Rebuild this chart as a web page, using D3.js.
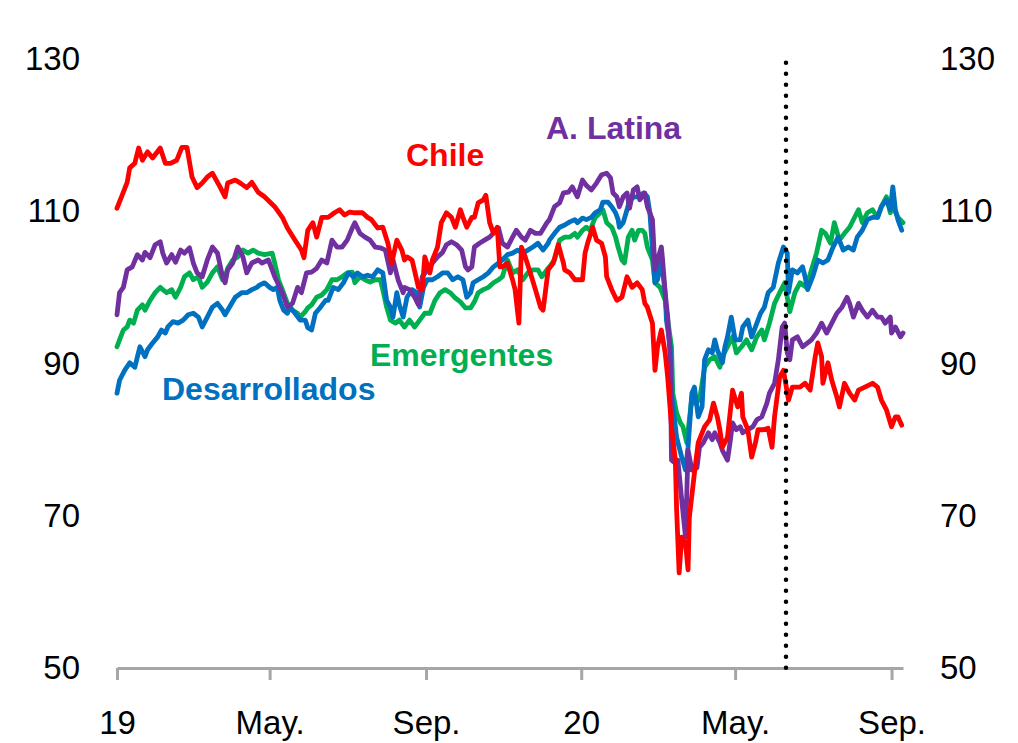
<!DOCTYPE html>
<html>
<head>
<meta charset="utf-8">
<script src="https://cdn.jsdelivr.net/npm/d3@7"></script>
<style>
  html, body { margin: 0; padding: 0; background: #ffffff; }
  svg { display: block; }
</style>
</head>
<body>
<svg id="chart" width="1018" height="743"></svg>
<script>
// ---- DATA (day offset from 1 Jan 2019, index value) ----
const startDate = "2019-01-01";
const endDate = "2020-09-10";
const markerDate = "2020-06-10";

const xTickDates = ["2019-01-01", "2019-05-01", "2019-09-01", "2020-01-01", "2020-05-01", "2020-09-01"];
const xTickLabels = ["19", "May.", "Sep.", "20", "May.", "Sep."];
const yTicks = [50, 70, 90, 110, 130];

const seriesNames = ["Emergentes", "Desarrollados", "A. Latina", "Chile"];

const chile = [[0,110.4],[4,112.1],[8,113.8],[10,115.7],[14,116.3],[17,118.3],[20,116.7],[24,117.8],[28,117.0],[34,118.3],[38,116.3],[42,116.3],[47,116.7],[51,118.4],[55,118.4],[59,114.5],[63,113.1],[67,113.7],[71,114.5],[75,115.0],[79,113.8],[81,113.2],[85,111.9],[87,113.7],[93,114.1],[97,113.7],[102,113.1],[106,113.8],[111,112.5],[116,111.9],[124,110.6],[130,109.2],[134,107.8],[140,106.2],[145,104.9],[147,103.9],[150,107.5],[154,108.5],[157,106.6],[161,109.2],[166,109.2],[171,109.8],[175,110.2],[179,109.5],[183,109.9],[187,109.8],[193,109.8],[197,109.2],[200,108.9],[205,107.8],[209,107.9],[213,105.8],[216,103.2],[220,106.2],[224,104.9],[226,103.6],[228,104.0],[232,103.6],[237,100.0],[240,99.7],[242,104.0],[246,101.9],[248,103.6],[252,105.3],[255,108.5],[259,109.8],[263,109.2],[266,107.9],[270,110.2],[272,109.2],[275,107.9],[279,109.2],[281,109.2],[284,111.1],[288,111.5],[290,112.1],[293,108.5],[296,107.1],[299,107.9],[301,102.7],[303,102.7],[307,103.2],[311,101.0],[313,99.7],[316,95.3],[318,105.3],[321,104.0],[325,101.9],[329,99.7],[333,97.4],[335,97.0],[339,102.3],[343,103.2],[347,105.6],[351,103.2],[352,102.3],[356,101.9],[360,101.0],[366,101.0],[368,104.5],[370,105.8],[374,107.9],[377,106.2],[381,105.8],[384,104.0],[385,101.4],[389,99.7],[393,98.3],[397,98.7],[401,101.4],[405,100.0],[409,100.6],[413,99.7],[415,97.9],[417,97.4],[421,95.3],[423,89.1],[425,92.2],[428,94.4],[431,91.4],[433,88.2],[436,81.7],[439,77.3],[440,70.8],[442,62.5],[444,67.2],[447,66.4],[449,62.9],[450,69.8],[454,75.6],[457,79.6],[462,81.7],[466,82.6],[469,84.8],[472,83.0],[474,81.3],[476,79.0],[480,80.3],[484,86.5],[488,84.3],[491,86.1],[492,83.0],[496,81.3],[499,77.7],[502,79.6],[504,81.3],[508,81.3],[512,81.5],[515,79.0],[517,83.0],[521,88.2],[524,89.1],[528,85.2],[531,86.9],[537,86.9],[541,87.4],[545,86.5],[549,90.9],[551,92.7],[554,90.9],[555,87.4],[559,90.1],[562,87.8],[566,85.6],[568,84.3],[572,87.4],[576,86.1],[580,85.2],[583,86.5],[588,86.9],[594,87.4],[598,86.9],[601,85.2],[605,83.9],[609,81.7],[612,83.0],[614,83.0],[617,81.9]];

const latina = [[0,96.4],[2,99.3],[5,100.0],[8,102.3],[12,102.7],[16,104.3],[20,103.6],[22,104.6],[26,103.9],[30,105.6],[34,106.0],[36,104.5],[39,103.2],[43,104.3],[46,103.3],[50,104.9],[53,104.5],[57,105.2],[60,103.2],[63,101.9],[67,101.4],[71,103.6],[75,105.3],[79,104.5],[83,101.4],[85,100.6],[87,102.3],[91,103.2],[95,105.3],[99,104.0],[102,101.9],[106,103.2],[111,103.6],[114,103.2],[119,103.6],[124,101.4],[130,99.3],[134,97.4],[138,97.9],[142,100.0],[145,99.3],[149,101.9],[153,102.0],[157,102.5],[161,103.6],[165,103.2],[169,106.2],[173,105.3],[177,105.3],[181,106.2],[185,107.8],[187,108.5],[191,107.1],[195,106.6],[199,106.2],[203,105.3],[207,105.2],[211,104.9],[215,101.9],[217,103.6],[221,101.0],[225,99.3],[226,100.0],[230,99.7],[234,98.7],[237,97.7],[240,101.4],[244,102.3],[248,103.2],[252,104.0],[256,104.6],[259,105.6],[263,106.0],[267,105.6],[271,104.9],[274,102.7],[276,102.3],[279,102.7],[281,105.3],[285,105.8],[289,106.2],[293,106.6],[297,107.3],[300,107.8],[303,105.8],[307,105.3],[311,106.6],[314,107.5],[318,106.6],[321,106.2],[325,107.5],[329,107.1],[333,107.1],[338,108.5],[340,108.9],[344,110.6],[348,111.1],[351,112.4],[355,112.5],[358,113.2],[362,111.9],[366,114.1],[369,113.4],[373,112.8],[377,113.7],[381,114.8],[385,115.0],[388,114.4],[390,112.4],[393,111.9],[395,110.6],[398,111.9],[401,112.4],[403,110.4],[406,112.8],[409,113.2],[411,111.5],[415,112.4],[417,110.6],[421,108.9],[423,102.3],[425,103.6],[428,105.3],[429,103.6],[431,99.3],[433,96.1],[435,90.5],[436,77.3],[439,76.9],[441,77.3],[444,72.1],[447,67.2],[449,78.6],[452,76.0],[456,76.3],[458,79.0],[461,79.6],[465,80.9],[468,80.0],[470,80.9],[474,79.6],[476,78.6],[480,77.3],[482,79.6],[484,82.2],[487,81.3],[490,81.7],[492,80.9],[496,81.3],[500,81.7],[503,82.6],[507,83.0],[511,84.8],[513,86.1],[517,87.4],[520,90.5],[523,94.8],[525,95.3],[527,91.4],[529,90.5],[531,93.1],[535,93.5],[539,92.2],[543,92.7],[546,93.1],[550,94.0],[554,95.3],[558,94.0],[562,95.3],[566,96.6],[570,97.4],[574,98.7],[576,97.9],[579,96.1],[583,97.9],[586,97.0],[590,96.1],[594,97.0],[598,96.1],[601,96.1],[604,95.3],[608,96.1],[609,94.0],[612,94.8],[616,93.5],[618,94.0]];

const emergentes = [[0,92.2],[2,93.1],[5,94.4],[8,94.8],[10,95.7],[13,95.3],[16,97.0],[20,97.7],[22,97.0],[26,98.3],[30,99.3],[34,100.0],[36,99.7],[39,99.3],[43,99.7],[46,98.7],[50,100.0],[53,101.4],[57,101.9],[60,101.0],[64,101.4],[67,100.0],[71,100.7],[75,101.9],[79,102.7],[83,101.0],[85,101.4],[87,102.5],[91,103.6],[95,104.0],[99,104.9],[103,104.5],[107,104.9],[111,104.5],[116,104.3],[122,104.5],[124,103.2],[127,101.0],[130,99.7],[134,97.9],[138,97.0],[142,96.6],[144,96.1],[148,96.8],[150,97.3],[153,97.7],[157,98.7],[161,99.0],[165,99.7],[169,101.0],[173,101.0],[177,101.4],[181,101.9],[185,102.0],[187,100.6],[191,101.4],[195,101.0],[199,100.7],[203,101.0],[207,101.0],[209,99.7],[212,97.4],[215,95.7],[219,95.3],[222,95.7],[226,94.8],[230,95.7],[234,94.8],[238,95.7],[242,96.6],[246,96.6],[250,98.3],[254,99.3],[258,99.7],[262,99.3],[266,98.6],[270,98.1],[274,97.3],[278,97.3],[281,98.1],[284,99.3],[288,99.7],[292,100.0],[296,100.6],[300,101.0],[303,101.4],[307,103.6],[311,101.9],[315,102.3],[319,101.0],[323,101.9],[327,102.3],[331,102.3],[334,101.4],[338,102.3],[340,102.7],[344,103.6],[348,106.2],[352,106.6],[356,106.6],[360,107.1],[362,106.6],[366,107.5],[369,107.9],[372,107.5],[376,109.2],[380,109.8],[382,110.2],[385,108.5],[389,107.9],[392,106.6],[394,105.3],[397,103.6],[399,103.2],[402,106.6],[405,107.5],[407,106.2],[410,107.5],[413,107.5],[415,107.1],[417,105.3],[421,103.6],[423,100.6],[427,100.0],[431,98.3],[433,95.7],[436,92.2],[437,86.1],[440,83.5],[443,82.2],[445,81.7],[448,79.6],[452,85.6],[454,84.8],[458,85.2],[462,89.5],[466,90.5],[470,90.9],[474,89.5],[476,90.9],[480,92.2],[484,93.5],[487,91.4],[491,92.2],[495,93.1],[499,91.8],[503,93.5],[507,94.4],[509,93.1],[513,95.3],[517,97.9],[521,99.3],[525,100.6],[529,96.8],[533,99.3],[537,100.6],[542,100.0],[546,102.3],[550,104.5],[554,107.5],[557,107.1],[561,105.8],[564,108.5],[568,106.2],[572,107.1],[576,107.9],[583,110.2],[586,108.5],[590,109.8],[594,110.2],[598,109.2],[601,110.6],[605,111.9],[608,109.8],[610,110.6],[614,109.2],[618,108.5]];

const desarrollados = [[0,86.1],[2,87.8],[6,89.1],[10,90.1],[14,89.5],[18,92.2],[22,90.9],[24,91.8],[28,92.7],[32,93.5],[35,94.4],[38,94.0],[40,94.8],[44,95.5],[48,95.3],[52,95.7],[56,96.4],[60,96.6],[64,96.1],[67,94.8],[71,96.1],[75,97.4],[79,97.9],[83,97.0],[85,96.4],[87,97.0],[93,98.7],[98,99.3],[102,99.3],[106,99.7],[110,100.0],[112,100.3],[116,100.6],[120,100.0],[123,99.7],[126,100.0],[128,98.3],[131,97.0],[134,96.6],[136,97.4],[140,96.6],[144,95.7],[148,95.7],[150,94.7],[153,94.4],[156,96.6],[160,97.4],[164,98.3],[166,98.3],[170,100.0],[174,99.7],[178,100.6],[182,101.9],[186,101.4],[189,101.9],[193,101.4],[197,101.6],[201,101.4],[205,102.3],[209,101.9],[212,98.3],[215,97.4],[217,96.1],[220,99.3],[222,97.7],[225,96.1],[228,98.7],[232,99.7],[236,99.3],[238,97.4],[241,100.0],[244,101.0],[248,101.0],[252,101.4],[256,101.9],[260,101.9],[264,101.0],[268,101.4],[272,101.0],[275,98.7],[278,99.3],[280,100.6],[284,101.0],[288,101.4],[292,101.9],[296,102.7],[300,103.2],[303,103.6],[307,104.3],[311,104.5],[315,104.9],[319,104.5],[323,104.9],[327,105.3],[331,105.8],[335,104.9],[339,105.8],[340,106.2],[344,107.1],[348,107.9],[352,108.2],[356,108.6],[360,108.9],[362,108.5],[366,109.1],[369,108.9],[373,109.2],[376,109.8],[380,110.2],[382,111.2],[386,111.2],[389,110.6],[392,109.8],[394,108.9],[395,107.9],[398,108.5],[401,110.2],[403,111.5],[407,111.9],[410,111.9],[414,112.4],[417,111.9],[419,109.8],[421,104.9],[423,100.6],[425,101.0],[428,103.6],[431,99.3],[432,95.7],[435,92.2],[436,86.1],[440,80.3],[444,77.7],[447,76.0],[449,79.0],[452,86.1],[454,86.9],[457,83.0],[460,84.3],[462,90.5],[465,91.8],[468,91.4],[470,93.1],[472,91.8],[476,90.1],[478,92.2],[480,93.5],[483,96.1],[486,93.1],[490,93.1],[492,94.8],[496,95.7],[499,93.5],[502,94.8],[506,96.6],[509,97.4],[512,99.3],[516,100.0],[520,103.2],[524,105.3],[527,104.5],[528,99.3],[531,102.3],[535,101.9],[539,102.7],[541,101.4],[543,99.7],[547,101.4],[551,103.6],[555,103.2],[559,103.6],[563,105.3],[567,106.6],[571,104.9],[575,105.3],[579,104.9],[582,106.6],[586,107.5],[590,108.9],[594,109.2],[598,109.2],[601,110.6],[605,111.5],[608,110.2],[610,113.2],[612,110.2],[614,108.9],[617,107.5]];

// ---- STYLE / LAYOUT ----
const colors = { "Chile": "#FF0000", "A. Latina": "#7030A0", "Emergentes": "#00B050", "Desarrollados": "#0070C0" };
const seriesData = { "Chile": chile, "A. Latina": latina, "Emergentes": emergentes, "Desarrollados": desarrollados };
const labelPos = {
  "Chile": [406, 166],
  "A. Latina": [546, 139],
  "Emergentes": [370, 366],
  "Desarrollados": [162, 400]
};

const parse = d3.utcParse("%Y-%m-%d");
const t0 = parse(startDate);
const dayToDate = d => d3.utcDay.offset(t0, d);

const svg = d3.select("#chart");
svg.append("rect").attr("width", 1018).attr("height", 743).attr("fill", "#ffffff");

const x = d3.scaleUtc().domain([parse(startDate), parse(endDate)]).range([117, 903]);
const y = d3.scaleLinear().domain([50, 130]).range([668, 59]);

const fontFamily = "'Liberation Sans', Arial, sans-serif";

// bottom axis
const xAxis = d3.axisBottom(x)
  .tickValues(xTickDates.map(parse))
  .tickFormat((d, i) => xTickLabels[i])
  .tickSize(12)
  .tickSizeOuter(0)
  .tickPadding(31);
const gx = svg.append("g").attr("transform", "translate(0,668)").call(xAxis);
gx.select(".domain").attr("stroke", "#A6A6A6").attr("stroke-width", 3);
gx.selectAll(".tick line").attr("stroke", "#A6A6A6").attr("stroke-width", 3);
gx.selectAll(".tick text").attr("fill", "#000").style("font-family", fontFamily).style("font-size", "33px");

// left axis
const yAxisL = d3.axisLeft(y).tickValues(yTicks).tickSize(0).tickPadding(37);
const gyl = svg.append("g").attr("transform", "translate(117,0)").call(yAxisL);
gyl.select(".domain").remove();
gyl.selectAll(".tick text").attr("fill", "#000").style("font-family", fontFamily).style("font-size", "33px");

// right axis
const yAxisR = d3.axisRight(y).tickValues(yTicks).tickSize(0).tickPadding(37);
const gyr = svg.append("g").attr("transform", "translate(903,0)").call(yAxisR);
gyr.select(".domain").remove();
gyr.selectAll(".tick text").attr("fill", "#000").style("font-family", fontFamily).style("font-size", "33px");

// lines
const line = d3.line()
  .x(p => x(dayToDate(p[0])))
  .y(p => y(p[1]))
  .curve(d3.curveLinear);

seriesNames.forEach(name => {
  svg.append("path")
    .datum(seriesData[name])
    .attr("fill", "none")
    .attr("stroke", colors[name])
    .attr("stroke-width", 4.8)
    .attr("stroke-linejoin", "round")
    .attr("stroke-linecap", "round")
    .attr("d", line);
});

// dotted vertical marker
const mx = x(parse(markerDate));
svg.append("line")
  .attr("x1", mx).attr("x2", mx)
  .attr("y1", y(129.5)).attr("y2", y(50))
  .attr("stroke", "#000")
  .attr("stroke-width", 4.5)
  .attr("stroke-linecap", "round")
  .attr("stroke-dasharray", "0,11");

// series labels
Object.keys(labelPos).forEach(name => {
  svg.append("text")
    .attr("x", labelPos[name][0])
    .attr("y", labelPos[name][1])
    .attr("fill", colors[name])
    .style("font-family", fontFamily)
    .style("font-weight", "bold")
    .style("font-size", "32px")
    .text(name);
});
</script>
</body>
</html>
